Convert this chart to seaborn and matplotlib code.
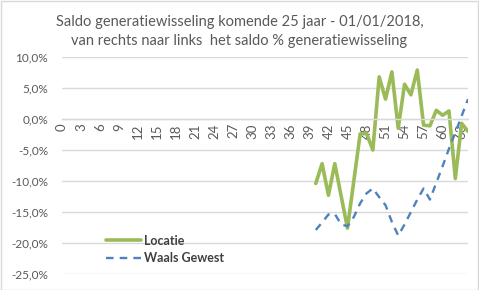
import matplotlib
matplotlib.use("Agg")
import matplotlib.pyplot as plt
import matplotlib.ticker as mticker
from matplotlib.patches import Rectangle
from matplotlib.lines import Line2D
import seaborn as sns
import pandas as pd

# ---- data ----
ages = [40, 41, 42, 43, 44, 45, 46, 47, 48, 49, 50, 51, 52, 53, 54, 55, 56,
        57, 58, 59, 60, 61, 62, 63, 64]
locatie = [-10.4, -7.2, -12.3, -7.2, -12.4, -17.6, -10.0, -2.4, -2.3, -5.0,
           6.8, 3.2, 7.6, -1.5, 5.6, 3.9, 7.9, -1.0, -1.1, 1.4, 0.6, 1.3,
           -9.6, -0.7, -2.0]
waals = [-17.9, -16.7, -15.4, -15.3, -17.0, -17.3, -15.8, -13.6, -12.0, -11.2,
         -12.6, -13.9, -16.6, -18.8, -17.0, -15.0, -13.0, -11.2, -13.0, -10.3,
         -7.6, -4.8, -2.2, 0.5, 3.2]
series_names = ["Locatie", "Waals Gewest"]
xtick_labels = [0, 3, 6, 9, 12, 15, 18, 21, 24, 27, 30, 33, 36, 39, 42, 45,
                48, 51, 54, 57, 60, 63]
yticks = [10, 5, 0, -5, -10, -15, -20, -25]
title_lines = ["Saldo generatiewisseling komende 25 jaar - 01/01/2018,",
               "van rechts naar links  het saldo % generatiewisseling"]

sns.set_style("white")
plt.rcParams["font.family"] = ["Lato", "DejaVu Sans"]

df = pd.DataFrame({
    "age": ages * 2,
    "value": locatie + waals,
    "series": [series_names[0]] * len(ages) + [series_names[1]] * len(ages),
})

W, H = 479, 290
fig = plt.figure(figsize=(W / 100, H / 100), dpi=100)
ax = fig.add_axes([62 / W, 1 - 274 / H, (468 - 62) / W, (274 - 57) / H])

green = "#9BBB59"
blue = "#4F81BD"
txt = "#595959"

sns.lineplot(data=df[df.series == series_names[0]], x="age", y="value",
             color=green, linewidth=2.6, ax=ax, legend=False)
sns.lineplot(data=df[df.series == series_names[1]], x="age", y="value",
             color=blue, linewidth=1.7, ax=ax, legend=False)
ax.lines[1].set_dashes([3.2, 2.6])

ax.set_xlim(0, 64)
ax.set_ylim(-25, 10)
ax.spines["bottom"].set_position(("data", 0))
ax.set_yticks(yticks)
ax.yaxis.set_major_formatter(mticker.FuncFormatter(
    lambda v, p: f"{v:.1f}%".replace(".", ",")))
ax.set_xticks(xtick_labels)
ax.set_xticklabels([str(t) for t in xtick_labels])
ax.set_xlabel("")
ax.set_ylabel("")

ax.grid(axis="y", color="#D9D9D9", linewidth=1)
ax.grid(axis="x", visible=False)
ax.set_axisbelow(True)
for s in ["top", "right", "left"]:
    ax.spines[s].set_visible(False)
ax.spines["bottom"].set_color("#D9D9D9")
ax.spines["bottom"].set_linewidth(1)
ax.tick_params(axis="y", length=0, pad=10, labelsize=8.5, labelcolor=txt)
ax.tick_params(axis="x", length=0, pad=3, labelsize=9.5, labelcolor=txt,
               labelrotation=90)

handles = [Line2D([], [], color=green, linewidth=2.6),
           Line2D([], [], color=blue, linewidth=1.7, dashes=[3.2, 2.6])]
leg = ax.legend(handles, series_names, loc="lower left",
                bbox_to_anchor=(0.08, -0.008), frameon=False,
                handlelength=2.8, handletextpad=0.25, labelspacing=0.45,
                prop={"size": 9, "weight": "bold"})
for t in leg.get_texts():
    t.set_color("#404040")

fig.text(0.5, 1 - 22 / H, title_lines[0], ha="center", va="center",
         fontsize=10.5, color=txt)
fig.text(0.5, 1 - 41 / H, title_lines[1], ha="center", va="center",
         fontsize=10.5, color=txt)

fig.patches.append(Rectangle((0.5 / W, 0.5 / H), 1 - 1.5 / W, 1 - 1.5 / H,
                             transform=fig.transFigure, fill=False,
                             edgecolor="#D9D9D9", linewidth=1))

fig.savefig("out.png", dpi=100)
